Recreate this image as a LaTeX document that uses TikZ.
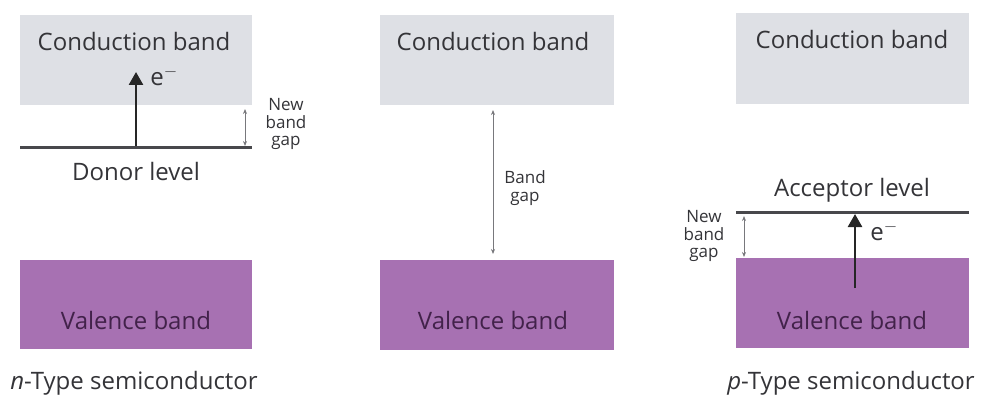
\documentclass[tikz,border=0pt]{standalone}
\usepackage{fontspec}
\setmainfont{Open Sans}
\usetikzlibrary{arrows.meta}
\definecolor{condgray}{RGB}{222,224,229}
\definecolor{valpurple}{RGB}{167,113,178}
\definecolor{txtgray}{RGB}{52,52,56}
\definecolor{valtext}{RGB}{66,34,74}
\definecolor{gapgray}{RGB}{120,120,124}
\tikzset{
  condbox/.style={fill=condgray, inner sep=0, anchor=north west},
  valbox/.style={fill=valpurple, inner sep=0, anchor=north west},
  bigtext/.style={text=txtgray, font=\fontsize{24}{28}\selectfont, inner sep=0},
  smalltext/.style={text=txtgray, font=\fontsize{17}{17.5}\selectfont, align=center, inner sep=0},
  levelline/.style={draw=txtgray!90, line width=3pt},
  eflow/.style={draw=black!85, line width=2.6pt, -{Triangle[length=13pt,width=14pt]}},
  gaparrow/.style={draw=gapgray, line width=0.8pt, {Stealth[length=5pt,width=4pt]}-{Stealth[length=5pt,width=4pt]}}
}
\begin{document}
\begin{tikzpicture}[x=1pt,y=-1pt]
\useasboundingbox (0,0) rectangle (981,398);

% n-type
\node[condbox, minimum width=232pt, minimum height=90pt] (cb1) at (20,15) {};
\node[valbox, minimum width=232pt, minimum height=89pt] (vb1) at (20,260) {};
\node[bigtext] (cbt1) at (134,42) {Conduction band};
\node[bigtext, text=valtext] (vbt1) at (136,320) {Valence band};
\coordinate (dl) at (20,148);
\coordinate (dr) at (252,148);
\draw[levelline] (dl) -- (dr);
\node[bigtext] (dlt) at (136,171) {Donor level};
\coordinate (e1s) at (136,146);
\coordinate (e1t) at (136,72);
\draw[eflow] (e1s) -- (e1t);
\node[bigtext] (e1) at (164,76) {e$^{-}$};
\coordinate (g1t) at (245,109);
\coordinate (g1b) at (245,146);
\draw[gaparrow] (g1t) -- (g1b);
\node[smalltext] (g1txt) at (286,124) {New\\band\\gap};
\node[bigtext] (ntype) at (134,383) {\textit{n}-Type semiconductor};

% intrinsic
\node[condbox, minimum width=234pt, minimum height=90pt] (cb2) at (380,15) {};
\node[valbox, minimum width=234pt, minimum height=90pt] (vb2) at (380,260) {};
\node[bigtext] (cbt2) at (493,42) {Conduction band};
\node[bigtext, text=valtext] (vbt2) at (493,320) {Valence band};
\coordinate (g2t) at (493,110);
\coordinate (g2b) at (493,254);
\draw[gaparrow] (g2t) -- (g2b);
\node[smalltext] (g2txt) at (525,188) {Band\\gap};

% p-type
\node[condbox, minimum width=233pt, minimum height=91pt] (cb3) at (736,13) {};
\node[valbox, minimum width=233pt, minimum height=90pt] (vb3) at (736,258) {};
\node[bigtext] (cbt3) at (852,40) {Conduction band};
\node[bigtext, text=valtext] (vbt3) at (852,320) {Valence band};
\coordinate (al) at (736,212);
\coordinate (ar) at (969,212);
\draw[levelline] (al) -- (ar);
\node[bigtext] (alt) at (852,190) {Acceptor level};
\coordinate (e3s) at (855,288);
\coordinate (e3t) at (855,214);
\draw[eflow] (e3s) -- (e3t);
\node[bigtext] (e3) at (884,231) {e$^{-}$};
\coordinate (g3t) at (744,216);
\coordinate (g3b) at (744,257);
\draw[gaparrow] (g3t) -- (g3b);
\node[smalltext] (g3txt) at (704,236) {New\\band\\gap};
\node[bigtext] (ptype) at (851,383) {\textit{p}-Type semiconductor};
\end{tikzpicture}
\end{document}
